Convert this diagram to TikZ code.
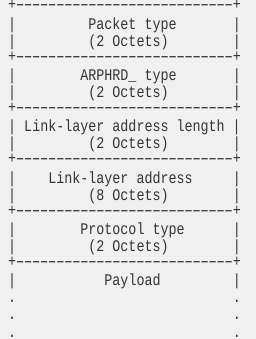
\documentclass[tikz,border=0pt]{standalone}
\usepackage{fontspec}
\newfontfamily\asciifont[FakeStretch=0.825]{Liberation Mono}
\usetikzlibrary{matrix}

\definecolor{pagebg}{HTML}{F0F0F0}
\definecolor{asciigray}{HTML}{333333}

\newcommand\pipe{\char`\|}
\newcommand\dashchar{\makebox[\fontcharwd\font`\-]{\scalebox{1.7}[1]{-}}}
\newcommand\dashrow{\raisebox{2.3pt}{+\foreach\i in {1,...,27}{\dashchar}+}}
\newcommand\dotrow{.\foreach\i in {1,...,27}{~}.}

\begin{document}
\begin{tikzpicture}[x=1pt,y=1pt]
\fill[pagebg] (0,0) rectangle (256,-339);
\useasboundingbox (0,0) rectangle (256,-339);

\matrix (m) [matrix of nodes, anchor=north west, inner sep=0pt, row sep=0pt, column sep=0pt,
  nodes={anchor=base west, inner sep=0pt, outer sep=0pt, text height=11.1pt, text depth=6pt,
         text=asciigray, font=\asciifont\fontsize{16.2}{17.1}\selectfont}] at (8,-0.8) {
  \dashrow \\
  \pipe~~~~~~~~~Packet~type~~~~~~~\pipe \\
  \pipe~~~~~~~~~(2~Octets)~~~~~~~~\pipe \\
  \dashrow \\
  \pipe~~~~~~~~ARPHRD\_~type~~~~~~~\pipe \\
  \pipe~~~~~~~~~(2~Octets)~~~~~~~~\pipe \\
  \dashrow \\
  \pipe~Link-layer~address~length~\pipe \\
  \pipe~~~~~~~~~(2~Octets)~~~~~~~~\pipe \\
  \dashrow \\
  \pipe~~~~Link-layer~address~~~~~\pipe \\
  \pipe~~~~~~~~~(8~Octets)~~~~~~~~\pipe \\
  \dashrow \\
  \pipe~~~~~~~~Protocol~type~~~~~~\pipe \\
  \pipe~~~~~~~~~(2~Octets)~~~~~~~~\pipe \\
  \dashrow \\
  \pipe~~~~~~~~~~~Payload~~~~~~~~~\pipe \\
  \dotrow \\
  \dotrow \\
  \dotrow \\
};

\end{tikzpicture}
\end{document}
